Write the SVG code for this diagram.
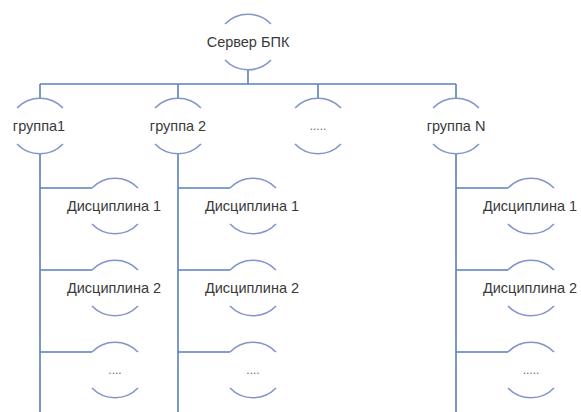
<svg xmlns="http://www.w3.org/2000/svg" xmlns:xlink="http://www.w3.org/1999/xlink" width="581" height="412" viewBox="0 0 581 412">
<style>
.arc{fill:none;stroke:#8195c6;stroke-width:1.6}
.ln{fill:none;stroke:#5a7fc0;stroke-width:1.6}
.t{font-family:"Liberation Sans",Arial,sans-serif;font-size:14.5px;fill:#3a3a3a;text-anchor:middle}
.d{font-family:"Liberation Sans",Arial,sans-serif;font-size:12px;fill:#6a6a6a;text-anchor:middle}
</style>
<defs>
<g id="node">
<path class="arc" d="M-23 -18 A32 32 0 0 1 23 -18"/>
<path class="arc" d="M-23 18 A32 32 0 0 0 23 18"/>
</g>
</defs>
<rect width="581" height="412" fill="#ffffff"/>
<g id="connectors">
<path class="ln" d="M248 70 V84"/>
<path class="ln" d="M40 84 H456"/>
<path class="ln" d="M40 84 V98 M178 84 V98 M318 84 V98 M456 84 V98"/>
<path class="ln" d="M40 154 V412 M178 154 V412 M456 154 V412"/>
<path class="ln" d="M40 188 H92 M40 270 H92 M40 352 H92"/>
<path class="ln" d="M178 188 H230 M178 270 H230 M178 352 H230"/>
<path class="ln" d="M456 188 H508 M456 270 H508 M456 352 H508"/>
</g>
<g id="server"><use xlink:href="#node" x="248" y="42"/><text class="t" x="248" y="47">Сервер БПК</text></g>
<g id="group1"><use xlink:href="#node" x="40" y="126"/><text class="t" x="39" y="131">группа1</text></g>
<g id="group2"><use xlink:href="#node" x="178" y="126"/><text class="t" x="178" y="131">группа 2</text></g>
<g id="group-dots"><use xlink:href="#node" x="318" y="126"/><text class="d" x="318" y="130">.....</text></g>
<g id="groupN"><use xlink:href="#node" x="456" y="126"/><text class="t" x="456" y="131">группа N</text></g>
<g id="g1d1"><use xlink:href="#node" x="115" y="206"/><text class="t" x="114" y="211">Дисциплина 1</text></g>
<g id="g1d2"><use xlink:href="#node" x="115" y="288"/><text class="t" x="114" y="293">Дисциплина 2</text></g>
<g id="g1d3"><use xlink:href="#node" x="115" y="370"/><text class="d" x="115" y="374">....</text></g>
<g id="g2d1"><use xlink:href="#node" x="253" y="206"/><text class="t" x="252" y="211">Дисциплина 1</text></g>
<g id="g2d2"><use xlink:href="#node" x="253" y="288"/><text class="t" x="252" y="293">Дисциплина 2</text></g>
<g id="g2d3"><use xlink:href="#node" x="253" y="370"/><text class="d" x="253" y="374">....</text></g>
<g id="gNd1"><use xlink:href="#node" x="531" y="206"/><text class="t" x="530" y="211">Дисциплина 1</text></g>
<g id="gNd2"><use xlink:href="#node" x="531" y="288"/><text class="t" x="530" y="293">Дисциплина 2</text></g>
<g id="gNd3"><use xlink:href="#node" x="531" y="370"/><text class="d" x="531" y="374">.....</text></g>
</svg>
